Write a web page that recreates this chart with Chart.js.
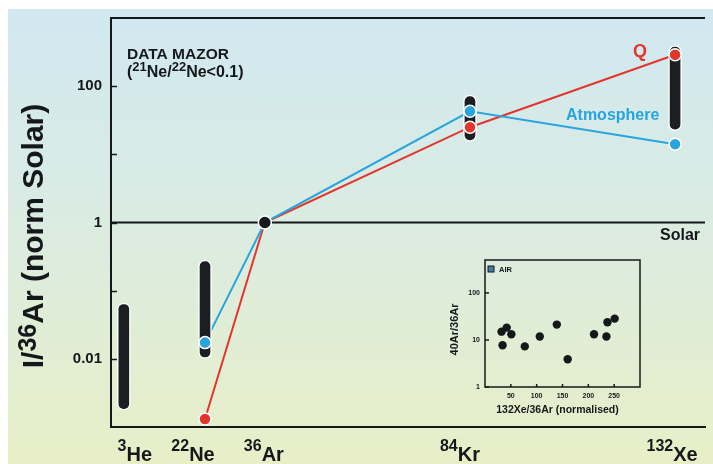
<!DOCTYPE html>
<html>
<head>
<meta charset="utf-8">
<script src="https://cdn.jsdelivr.net/npm/chart.js@4.4.1/dist/chart.umd.min.js"></script>
<style>
  html, body { margin: 0; padding: 0; background: #ffffff; }
  #wrap { position: relative; width: 713px; height: 464px; overflow: hidden; }
  #bg {
    position: absolute; left: 8px; top: 9px; right: 0; bottom: 0;
    background: linear-gradient(to bottom, #d1e8f1 0%, #d9ebe4 40%, #e0edd6 70%, #e8efc7 100%);
  }
  canvas { position: absolute; left: 0; top: 0; }
</style>
</head>
<body>
<div id="wrap">
  <div id="bg"></div>
  <canvas id="main" width="713" height="464"></canvas>
  <canvas id="inset" width="713" height="464"></canvas>
</div>
<script>
const FONT = "'Liberation Sans', Arial, Helvetica, sans-serif";
const RED = '#e2362c';
const BLUE = '#27a5dc';
const INK = '#15181a';

// Isotopes along the x axis, placed by mass number
const isotopeMass = [3, 22, 36, 84, 132];
const isotopeNumber = ['3', '22', '36', '84', '132'];
const isotopeSymbol = ['He', 'Ne', 'Ar', 'Kr', 'Xe'];

// Mazor data: spread of I/36Ar (normalised to solar); null where only a single value
const mazorLow = [0.00177, 0.0101, null, 15.5, 22.3];
const mazorHigh = [0.066, 0.28, null, 73.8, 393];
const mazorPoint = [null, null, 1, null, null];

// Elemental patterns normalised at 36Ar
const qValues = [null, 0.00131, 1, 25.0, 289];
const atmValues = [null, 0.0173, 1, 42.8, 14.1];

// Solar reference level
const solarLevel = 1;

// Y axis ticks and their labels
const yTickValues = [0.01, 0.1, 1, 10, 100];
const yTickLabels = ['0.01', '', '1', '', '100'];

// Inset: air samples, 40Ar/36Ar against normalised 132Xe/36Ar
const airXeAr = [32, 34, 42, 51, 77, 106, 139, 160, 211, 235, 237, 251];
const airArAr = [15.0, 7.7, 18.3, 13.2, 7.3, 11.8, 21.2, 3.9, 13.2, 11.8, 23.8, 28.4];
const insetYTicks = [1, 10, 100];
const insetXTicks = [50, 100, 150, 200, 250];

const toPoints = vals => isotopeMass
  .map((m, i) => ({ x: m, y: vals[i] }))
  .filter(p => p.y !== null);

const qPts = toPoints(qValues);
const atmPts = toPoints(atmValues);
const mazorPts = toPoints(mazorPoint);
const mazorBars = isotopeMass
  .map((m, i) => ({ x: m, y: [mazorLow[i], mazorHigh[i]] }))
  .filter(p => p.y[0] !== null);

const xMin = 0, xMax = 139;
const solarPts = [{ x: xMin, y: solarLevel }, { x: xMax, y: solarLevel }];

function setFont(ctx, size) { ctx.font = `bold ${size}px ${FONT}`; }
function runsWidth(ctx, runs) {
  let w = 0;
  runs.forEach(r => { setFont(ctx, r.size); w += ctx.measureText(r.text).width; });
  return w;
}
function drawRuns(ctx, runs, x, y) {
  let cx = x;
  ctx.textAlign = 'left';
  ctx.textBaseline = 'alphabetic';
  runs.forEach(r => {
    setFont(ctx, r.size);
    ctx.fillText(r.text, cx, y - (r.rise || 0));
    cx += ctx.measureText(r.text).width;
  });
}

// Frame, inward ticks, isotope labels, axis title and annotations
const mainDecor = {
  id: 'mainDecor',
  beforeDatasetsDraw(chart) {
    const { ctx, chartArea: a, scales: { y } } = chart;
    ctx.save();
    ctx.strokeStyle = INK;
    ctx.lineWidth = 2;
    ctx.beginPath();
    ctx.moveTo(a.left, a.top);
    ctx.lineTo(a.right, a.top);
    ctx.stroke();
    ctx.lineWidth = 1.5;
    yTickValues.forEach(v => {
      const py = Math.round(y.getPixelForValue(v)) + 0.5;
      ctx.beginPath();
      ctx.moveTo(a.left, py);
      ctx.lineTo(a.left + 6, py);
      ctx.stroke();
    });
    ctx.restore();
  },
  afterDraw(chart, args, opts) {
    const { ctx, chartArea: a, scales: { x } } = chart;
    ctx.save();
    ctx.fillStyle = INK;

    // isotope labels under the axis
    isotopeMass.forEach((m, i) => {
      const runs = [
        { text: isotopeNumber[i], size: 16, rise: 10 },
        { text: isotopeSymbol[i], size: 20 }
      ];
      const w = runsWidth(ctx, runs);
      const cx = x.getPixelForValue(m) + opts.labelNudge[i];
      drawRuns(ctx, runs, cx - w / 2, a.bottom + 34);
    });

    // rotated y axis title
    ctx.save();
    ctx.translate(43, 236);
    ctx.rotate(-Math.PI / 2);
    const title = [
      { text: 'I/', size: 30 },
      { text: '36', size: 25, rise: 7 },
      { text: 'Ar (norm Solar)', size: 30 }
    ];
    drawRuns(ctx, title, -runsWidth(ctx, title) / 2, 0);
    ctx.restore();

    // data set caption
    drawRuns(ctx, [{ text: 'DATA MAZOR', size: 15.5 }], a.left + 16, a.top + 41);
    drawRuns(ctx, [
      { text: '(', size: 16 },
      { text: '21', size: 13, rise: 6 },
      { text: 'Ne/', size: 16 },
      { text: '22', size: 13, rise: 6 },
      { text: 'Ne<0.1)', size: 16 }
    ], a.left + 16, a.top + 59);

    // series names
    ctx.fillStyle = RED;
    setFont(ctx, 18);
    ctx.textAlign = 'center';
    ctx.fillText('Q', 640, 57);
    ctx.fillStyle = BLUE;
    setFont(ctx, 16);
    ctx.textAlign = 'left';
    ctx.fillText('Atmosphere', 566, 120);

    // solar level label
    ctx.fillStyle = INK;
    setFont(ctx, 16);
    ctx.textAlign = 'right';
    ctx.fillText('Solar', 700, 240);
    ctx.restore();
  }
};

new Chart(document.getElementById('main'), {
  type: 'scatter',
  data: {
    datasets: [
      { type: 'line', data: solarPts, showLine: true, borderColor: INK, borderWidth: 2,
        pointRadius: 0, order: 6 },
      { type: 'line', data: qPts, showLine: true, borderColor: RED, borderWidth: 2,
        pointRadius: 0, order: 5 },
      { type: 'line', data: atmPts, showLine: true, borderColor: BLUE, borderWidth: 2,
        pointRadius: 0, order: 4 },
      { type: 'bar', data: mazorBars, backgroundColor: '#1c1f21', borderColor: '#ffffff',
        borderWidth: 1.5, borderSkipped: false, borderRadius: 10, barThickness: 13, order: 3 },
      { type: 'scatter', data: qPts, pointRadius: 6, backgroundColor: RED,
        borderColor: '#ffffff', borderWidth: 1.5, order: 2 },
      { type: 'scatter', data: atmPts, pointRadius: 6, backgroundColor: BLUE,
        borderColor: '#ffffff', borderWidth: 1.5, order: 2 },
      { type: 'scatter', data: mazorPts, pointRadius: 6.5, backgroundColor: INK,
        borderColor: '#ffffff', borderWidth: 1.5, order: 1 }
    ]
  },
  options: {
    responsive: false,
    animation: false,
    events: [],
    layout: { padding: { left: 0, top: 15, right: 0, bottom: 37 } },
    plugins: {
      legend: { display: false },
      tooltip: { enabled: false },
      mainDecor: { labelNudge: [11, -12, -1, -10, -3] }
    },
    scales: {
      x: {
        type: 'linear', min: xMin, max: xMax, offset: false,
        grid: { display: false, drawTicks: false },
        ticks: { display: false },
        border: { display: true, color: INK, width: 2 },
        afterFit: s => { s.height = 0; }
      },
      y: {
        type: 'logarithmic', min: 0.001, max: 1000, position: 'left',
        grid: { display: false, drawTicks: false },
        border: { display: true, color: INK, width: 2 },
        ticks: {
          padding: 9, color: INK, autoSkip: false,
          font: { family: FONT, size: 15, weight: 'bold' },
          callback: v => {
            const i = yTickValues.findIndex(t => Math.abs(Math.log10(t) - Math.log10(v)) < 1e-6);
            return i >= 0 ? yTickLabels[i] : '';
          }
        },
        afterBuildTicks: s => { s.ticks = yTickValues.map(v => ({ value: v })); },
        afterFit: s => { s.width = 111; }
      }
    }
  },
  plugins: [mainDecor]
});

// Inset frame, ticks, titles and legend key
const insetDecor = {
  id: 'insetDecor',
  beforeDatasetsDraw(chart) {
    const { ctx, chartArea: a, scales: { x, y } } = chart;
    ctx.save();
    ctx.strokeStyle = INK;
    ctx.lineWidth = 1.5;
    ctx.strokeRect(a.left, a.top, a.right - a.left, a.bottom - a.top);
    ctx.lineWidth = 1.5;
    insetYTicks.forEach(v => {
      const py = y.getPixelForValue(v);
      ctx.beginPath(); ctx.moveTo(a.left, py); ctx.lineTo(a.left + 4, py); ctx.stroke();
    });
    insetXTicks.forEach(v => {
      const px = x.getPixelForValue(v);
      ctx.beginPath(); ctx.moveTo(px, a.bottom); ctx.lineTo(px, a.bottom - 3); ctx.stroke();
    });
    ctx.restore();
  },
  afterDraw(chart) {
    const { ctx, chartArea: a } = chart;
    ctx.save();
    ctx.fillStyle = INK;
    // legend key
    ctx.fillStyle = '#4d78a8';
    ctx.fillRect(a.left + 3, a.top + 6, 6, 6);
    ctx.strokeStyle = INK;
    ctx.lineWidth = 1;
    ctx.strokeRect(a.left + 3, a.top + 6, 6, 6);
    ctx.fillStyle = INK;
    setFont(ctx, 7.5);
    ctx.textAlign = 'left';
    ctx.textBaseline = 'middle';
    ctx.fillText('AIR', a.left + 14, a.top + 9.5);
    // x title
    setFont(ctx, 10.5);
    ctx.textAlign = 'center';
    ctx.textBaseline = 'middle';
    ctx.fillText('132Xe/36Ar (normalised)', (a.left + a.right) / 2 - 5, a.bottom + 23);
    // y title
    ctx.save();
    ctx.translate(a.left - 30, (a.top + a.bottom) / 2 + 6);
    ctx.rotate(-Math.PI / 2);
    setFont(ctx, 11);
    ctx.fillText('40Ar/36Ar', 0, 0);
    ctx.restore();
    ctx.restore();
  }
};

new Chart(document.getElementById('inset'), {
  type: 'scatter',
  data: {
    datasets: [{
      data: airXeAr.map((v, i) => ({ x: v, y: airArAr[i] })),
      pointRadius: 4.2, backgroundColor: INK, borderWidth: 0
    }]
  },
  options: {
    responsive: false,
    animation: false,
    events: [],
    layout: { padding: { left: 0, top: 260, right: 73, bottom: 0 } },
    plugins: { legend: { display: false }, tooltip: { enabled: false } },
    scales: {
      x: {
        type: 'linear', min: 0, max: 300,
        grid: { display: false, drawTicks: false },
        border: { display: false },
        ticks: { padding: 5, color: INK, autoSkip: false, maxRotation: 0,
          font: { family: FONT, size: 7, weight: 'bold' } },
        afterBuildTicks: s => { s.ticks = insetXTicks.map(v => ({ value: v })); },
        afterFit: s => { s.height = 77; }
      },
      y: {
        type: 'logarithmic', min: 1, max: 500,
        grid: { display: false, drawTicks: false },
        border: { display: false },
        ticks: { padding: 5, color: INK, autoSkip: false,
          font: { family: FONT, size: 7, weight: 'bold' },
          callback: v => String(v) },
        afterBuildTicks: s => { s.ticks = insetYTicks.map(v => ({ value: v })); },
        afterFit: s => { s.width = 485; }
      }
    }
  },
  plugins: [insetDecor]
});
</script>
</body>
</html>
